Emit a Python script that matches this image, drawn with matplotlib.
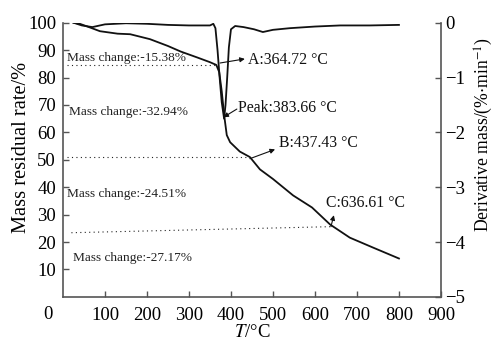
import numpy as np
import matplotlib
matplotlib.use("Agg")
import matplotlib.pyplot as plt
from matplotlib import transforms

plt.rcParams['font.family'] = ['Liberation Serif', 'DejaVu Serif']
plt.rcParams['mathtext.fontset'] = 'stix'

# ---- data ----
T_tg = [25, 40, 60, 88, 130, 160, 207, 250, 280, 320, 350, 365, 372, 378, 384, 390,
        398, 421, 445, 469, 500, 548, 593, 636, 683, 738, 800]
tg = [100, 99.6, 98.5, 96.9, 96.0, 95.8, 94.0, 91.5, 89.5, 87.3, 85.6, 84.6, 82, 75,
      66, 59, 56.4, 53, 51.0, 46.5, 43, 37, 32.6, 26.4, 21.6, 18, 14]

T_dtg = [25, 45, 70, 100, 150, 200, 250, 300, 350, 358, 363, 368, 373, 378, 383.66,
         387, 391, 395, 400, 410, 430, 455, 476, 500, 540, 600, 660, 730, 800]
dtg = [0, -0.05, -0.08, -0.03, -0.01, -0.02, -0.04, -0.05, -0.05, -0.02, -0.1, -0.5,
       -1.0, -1.45, -1.75, -1.5, -1.0, -0.45, -0.12, -0.06, -0.08, -0.12, -0.17, -0.13,
       -0.1, -0.07, -0.05, -0.05, -0.04]

# stage lines (start T, end T, start val, end val)
stage_T = [(10, 365), (10, 437), (20, 636)]
stage_v = [(84.6, 84.6), (50.9, 50.9), (23.4, 25.6)]
mass_labels = ["Mass change:-15.38%", "Mass change:-32.94%",
               "Mass change:-24.51%", "Mass change:-27.17%"]
mass_pos = [(10, 87.2), (14, 67.4), (10, 37.4), (23, 14.3)]

points = ["A:364.72 \u00b0C", "Peak:383.66 \u00b0C", "B:437.43 \u00b0C", "C:636.61 \u00b0C"]
text_pos = [(440, 86.3), (417, 69), (514, 56), (626, 34.4)]
arrow_tail = [(374, 85.3), (414, 68.5), (445, 50.4), (638, 25.6)]
arrow_head = [(433, 86.8), (382, 65.5), (505, 53.8), (645, 29.8)]

xticks = [100, 200, 300, 400, 500, 600, 700, 800, 900]
yticks_l = [10, 20, 30, 40, 50, 60, 70, 80, 90, 100]
yticks_r = [0, -1, -2, -3, -4, -5]

spine_c = '#555555'
fs = 13.5

fig = plt.figure(figsize=(4.96, 3.44), dpi=100)
ax = fig.add_axes([0.127, 0.137, 0.762, 0.797])
ax2 = ax.twinx()

ax.plot(T_tg, tg, color='#111111', lw=1.3)
ax2.plot(T_dtg, dtg, color='#111111', lw=1.3)

for (t0, t1), (v0, v1) in zip(stage_T, stage_v):
    ax.plot([t0, t1], [v0, v1], color='#222222', lw=0.8, ls=(0, (1, 3)))

for s, (x, y) in zip(mass_labels, mass_pos):
    ax.text(x, y, s, fontsize=9.6, va='center', ha='left', color='#222222')

for s, (x, y) in zip(points, text_pos):
    ax.text(x, y, s, fontsize=11.3, va='center', ha='left', color='#111111')
for tl, hd in zip(arrow_tail, arrow_head):
    ax.annotate('', xy=hd, xytext=tl,
                arrowprops=dict(arrowstyle='-|>', color='#111111', lw=0.8,
                                mutation_scale=7, shrinkA=0, shrinkB=0))

ax.set_xlim(0, 900)
ax.set_ylim(0, 100)
ax2.set_ylim(-5, 0)

ax.set_xticks(xticks)
ax.set_xticklabels([str(v) for v in xticks])
ax.set_yticks(yticks_l)
ax2.set_yticks(yticks_r)
ax2.set_yticklabels(['0'] + ['\u2212%d' % -v for v in yticks_r[1:]])

for a in (ax, ax2):
    a.spines['top'].set_visible(False)
    for sp in a.spines.values():
        sp.set_color(spine_c)
        sp.set_linewidth(1.2)
    a.tick_params(direction='in', length=4, width=1, color=spine_c,
                  labelsize=fs, pad=3)
ax.tick_params(axis='y', pad=5)
ax.tick_params(axis='x', pad=7)
ax.spines['right'].set_visible(False)
ax2.spines['left'].set_visible(False)
ax2.spines['bottom'].set_visible(False)

# lone "0" at the origin corner
trans = transforms.blended_transform_factory(ax.transData, ax.transAxes)
ax.text(-36, -0.035, '0', transform=trans, ha='center', va='top', fontsize=fs)

ax.set_xlabel('$T$/\u00b0C', fontsize=fs, labelpad=0)
ax.set_ylabel('Mass residual rate/%', fontsize=14.7)
ax.yaxis.set_label_coords(-0.085, 0.546)
ax2.set_ylabel('Derivative mass/(%$\\cdot$min$^{-1}$)', fontsize=12.7)
ax2.yaxis.set_label_coords(1.085, 0.593)

fig.savefig('out.png', dpi=100)
